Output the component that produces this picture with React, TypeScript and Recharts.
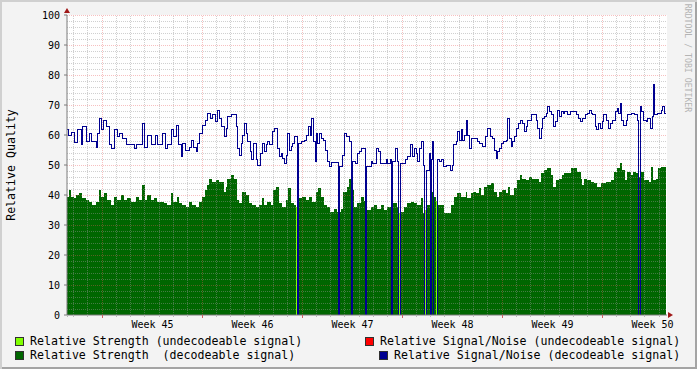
import { Area, ComposedChart, Line, ReferenceLine, XAxis, YAxis } from 'recharts'

const FONT = '"DejaVu Sans Mono", monospace'

const COL = {
  strongDec: '#006600',
  strongUndec: '#80ff00',
  snrUndec: '#ff0000',
  snrDec: '#000090',
  gridMinor: 'rgba(150,150,150,0.45)',
  gridMajor: 'rgba(235,90,90,0.38)',
  axis: '#7a7a7a',
}

// [rrd sample (one per pixel column, ~1.68 h), value]
const strengthDecodeable: [number, number][] = [
  [0, 39.4], [2, 41.7], [4, 39.4], [7, 38.9], [9, 40], [12, 40.6], [15, 39], [19, 38.3], [22, 37.8], [25, 36.7],
  [29, 37.8], [32, 41.7], [34, 39.4], [37, 40.6], [40, 38.3], [44, 36.7], [47, 39.4], [50, 38.3], [54, 40], [57, 38.3],
  [60, 38.9], [64, 37.8], [69, 39.4], [72, 38.3], [75, 43.3], [78, 38.3], [80, 40], [84, 38.3], [87, 38.9], [90, 37.8],
  [97, 37.2], [100, 36.7], [104, 40.6], [106, 37.8], [110, 39.4], [112, 37.2], [115, 36.7], [119, 36.1], [122, 37.8], [125, 36.7],
  [129, 36.1], [132, 37.8], [135, 39.4], [138, 41.7], [140, 43.3], [142, 45.5], [145, 44.4], [149, 45], [152, 44.4], [157, 41.1],
  [159, 42.8], [160, 45.5], [164, 46.7], [167, 45.5], [170, 38.3], [172, 37.2], [175, 41.1], [179, 40], [182, 37.2], [185, 36.7],
  [189, 36.1], [192, 36.7], [195, 38.9], [197, 36.7], [200, 37.8], [204, 36.7], [206, 41.7], [209, 42.8], [212, 37.2], [215, 36.1],
  [219, 38.3], [221, 42.2], [224, 37.2], [227, 36.7], [229, 0], [230, 34], [232, 38.9], [235, 39.4], [239, 38.3], [242, 39.4],
  [245, 37.8], [249, 41.1], [251, 42.2], [254, 39.4], [257, 36.7], [260, 36.1], [263, 34.4], [267, 35.5], [270, 34.4], [274, 35.5],
  [276, 41.1], [280, 42.8], [282, 45.5], [284, 41.7], [287, 36.1], [290, 37.2], [294, 39.4], [297, 38], [299, 35], [304, 36.1],
  [307, 36.7], [310, 35.5], [314, 36.7], [317, 35], [320, 36.1], [324, 36.7], [326, 37.2], [330, 36.1], [332, 0], [333, 34.4],
  [337, 36.1], [340, 37.2], [344, 37.8], [347, 37.2], [350, 36.7], [354, 38.9], [356, 33.9], [358, 0], [359, 36.7], [364, 41.1],
  [367, 39.4], [369, 0], [370, 36.7], [377, 33.9], [384, 36.7], [387, 39.4], [390, 40.6], [394, 39.4], [397, 39.4], [399, 41.1],
  [400, 38.9], [404, 40.6], [406, 41.1], [409, 40.6], [412, 42.2], [414, 40], [417, 42.8], [420, 43.3], [424, 43.9], [427, 41.1],
  [430, 39.4], [432, 41.1], [435, 41.7], [439, 40.6], [441, 42.8], [443, 40], [447, 42.2], [450, 45], [453, 46.7], [455, 45.5],
  [459, 45], [462, 46.1], [465, 45.5], [472, 44.4], [474, 47.2], [477, 48.5], [480, 48.9], [484, 46.7], [486, 42.8], [489, 45],
  [492, 45.5], [495, 46.7], [497, 47.2], [504, 48.9], [510, 47.8], [514, 45.5], [515, 43.3], [517, 45.5], [520, 45], [524, 44.4],
  [527, 43.9], [530, 42.8], [534, 43.9], [539, 44.4], [544, 45], [547, 47.8], [550, 48.9], [553, 50.8], [555, 48.3], [558, 45],
  [560, 47.8], [564, 46.7], [566, 47.8], [569, 47.2], [571, 46.1], [573, 47.8], [577, 45], [582, 44.4], [584, 49.4], [586, 45],
  [589, 45.5], [591, 48.9], [594, 49.4], [599, 49.4],
]

const strengthUndecodeable: [number, number][] = [
  [0, 0], [229, 36], [230, 0], [332, 34], [333, 0], [358, 35], [359, 0], [369, 38], [370, 0], [599, 0],
]

const snrDecodeable: [number, number][] = [
  [0, 62], [1, 60], [4, 61], [7, 57.5], [10, 62], [14, 57], [15, 63], [19, 58], [22, 60.5], [24, 58],
  [29, 56], [30, 60.5], [32, 65.5], [34, 62], [36, 65], [39, 63], [42, 57], [44, 55.5], [47, 61.7], [50, 59.5],
  [52, 60.5], [55, 59], [59, 56.7], [62, 57], [67, 55.5], [69, 57], [75, 64], [77, 56], [80, 60], [84, 57],
  [88, 60], [90, 57], [95, 60.5], [98, 55.5], [100, 56.7], [104, 61.7], [106, 59.5], [109, 63.3], [111, 56.7], [114, 52.8],
  [115, 57.2], [118, 55], [122, 56], [124, 58.3], [126, 56], [129, 54.4], [130, 57.2], [132, 60.5], [135, 63.3], [138, 65],
  [140, 67.2], [143, 65.5], [145, 66.7], [148, 64.4], [150, 68.3], [152, 65.5], [154, 62.8], [157, 59.5], [159, 62.2], [160, 66.1],
  [164, 66.7], [169, 62.8], [170, 55.5], [172, 53.3], [174, 57.2], [175, 60], [177, 63.9], [179, 60.5], [180, 57.8], [183, 54.4],
  [184, 51.7], [186, 57.2], [189, 51.7], [190, 50], [193, 53.9], [195, 57.2], [197, 54.4], [199, 56.7], [200, 57.8], [202, 56.7],
  [205, 61.1], [207, 62.2], [210, 55.5], [212, 52.8], [214, 53.9], [215, 52.2], [217, 50.5], [219, 53.3], [220, 60.5], [222, 55],
  [224, 56.1], [225, 57.2], [227, 59.5], [230, 0], [231, 57.2], [234, 57.8], [237, 58.3], [239, 60], [241, 62.8], [243, 60],
  [244, 65.5], [246, 57.8], [248, 51.1], [249, 60.5], [250, 57.2], [252, 60.5], [254, 58.9], [256, 58.3], [258, 55], [260, 51.1],
  [262, 49.4], [264, 50.8], [271, 0], [272, 49.4], [275, 53.3], [277, 60.5], [279, 59.5], [282, 57.8], [284, 0], [285, 51.1],
  [288, 50.5], [290, 53.9], [292, 54.4], [294, 55.5], [298, 0], [299, 49.4], [304, 51.1], [305, 50.5], [309, 55.5], [311, 54.4],
  [313, 50.5], [319, 51.7], [320, 50.5], [323, 51.7], [324, 0], [325, 51.1], [328, 55.5], [330, 51.1], [331, 0], [333, 50.5],
  [338, 51.7], [340, 52.8], [343, 56.7], [345, 52.8], [347, 55.5], [349, 53.9], [350, 51.1], [352, 55.5], [354, 57.8], [356, 50],
  [357, 0], [359, 48.3], [362, 53.9], [363, 0], [364, 51.7], [365, 57.8], [366, 0], [370, 51.7], [372, 51.1], [374, 51.7],
  [376, 49.4], [379, 50], [383, 48.3], [385, 50], [386, 56.7], [389, 57.8], [390, 61.1], [392, 58.3], [394, 61.7], [395, 58.3],
  [397, 60], [399, 65], [400, 60], [402, 55.5], [404, 58.9], [410, 57.8], [412, 57.2], [415, 56.1], [418, 59.4], [420, 62.2],
  [423, 59.4], [425, 58.9], [427, 55], [429, 52.2], [430, 54.4], [432, 55.5], [434, 57.2], [436, 57.8], [439, 58.3], [440, 65.5],
  [442, 58.9], [444, 56.1], [445, 57.8], [447, 59.4], [449, 62.2], [451, 63.9], [453, 65], [455, 63.9], [457, 61.1], [459, 62.8],
  [460, 65], [464, 66.7], [469, 65], [470, 62.2], [472, 58.9], [474, 62.2], [475, 65.5], [477, 66.1], [479, 67.2], [480, 69.4],
  [482, 67.8], [484, 66.7], [486, 62.8], [488, 64.4], [490, 68.3], [492, 66.1], [494, 67.8], [496, 67.2], [497, 67.8], [500, 66.7],
  [503, 67.8], [509, 66.7], [511, 65.5], [513, 64.4], [515, 65.5], [518, 66.7], [520, 67.2], [522, 68.3], [524, 67.2], [525, 66.7],
  [528, 62.8], [529, 61.7], [531, 63.9], [533, 62.2], [535, 64.4], [536, 66.7], [539, 65], [541, 62.2], [543, 63.9], [545, 65],
  [548, 67.8], [550, 68.9], [551, 67.2], [553, 70.5], [554, 65], [556, 63.3], [559, 65], [560, 66.7], [564, 67.2], [567, 66.7],
  [570, 65], [571, 0], [573, 69.4], [574, 67.8], [576, 65], [579, 64.4], [580, 65.5], [583, 62.2], [585, 66.1], [586, 76.7],
  [587, 66.7], [590, 67.2], [594, 68.3], [595, 69.4], [597, 67.2], [599, 67.2],
]

const weekLabels = ['Week 45', 'Week 46', 'Week 47', 'Week 48', 'Week 49', 'Week 50']
const weekLabelAt = [85.5, 185.5, 285.5, 385.5, 485.5, 585.5]
const weekStartAt = [35, 135, 235, 335, 435, 535]
const yTicks = [0, 10, 20, 30, 40, 50, 60, 70, 80, 90, 100]

const toRows = (pts: [number, number][]) => pts.map(([t, v]) => ({ t, v }))

const dayLines: number[] = []
for (let k = -2; k < 40; k++) {
  const t = 35 + (k * 100) / 7
  if (t > 0 && t < 600 && k % 7 !== 0) dayLines.push(t)
}
const yMinor: number[] = []
for (let v = 2; v < 100; v += 2) if (v % 10 !== 0) yMinor.push(v)

function XTick(props: any) {
  const { x, y, payload } = props
  const v = payload.value
  const li = weekLabelAt.indexOf(v)
  if (li >= 0) {
    return (
      <text x={x} y={y + 13} textAnchor="middle" fontSize={10} fontFamily={FONT} fill="#000">
        {weekLabels[li]}
      </text>
    )
  }
  const major = weekStartAt.includes(v)
  return (
    <line
      x1={x} x2={x} y1={y} y2={y + (major ? 3 : 2)}
      stroke={major ? '#d06060' : '#b8b8b8'}
      shapeRendering="crispEdges"
    />
  )
}

function LegendItem({ left, top, color, text }: { left: number; top: number; color: string; text: string }) {
  return (
    <div style={{ position: 'absolute', left, top, display: 'flex', alignItems: 'center', whiteSpace: 'pre' }}>
      <div style={{ width: 9, height: 9, boxSizing: 'border-box', background: color, border: '1px solid #303030' }} />
      <span style={{ marginLeft: 6, fontFamily: FONT, fontSize: 11.6, lineHeight: '14px', color: '#000' }}>{text}</span>
    </div>
  )
}

export default function App() {
  return (
    <div
      style={{
        position: 'absolute', left: 0, top: 0, width: 697, height: 369, background: '#f3f3f3',
        boxShadow: 'inset 2px 2px 0 #d0d0d0, inset -2px -2px 0 #a4a4a4', overflow: 'hidden',
      }}
    >
      <div style={{ position: 'absolute', left: 67, top: 15, width: 600, height: 300, background: '#fff' }} />
      <div style={{ position: 'absolute', left: 0, top: 0 }}>
        <ComposedChart width={697} height={369} margin={{ top: 15, right: 30, bottom: 34, left: 0 }}>
          <XAxis
            type="number" dataKey="t" domain={[0, 600]} allowDataOverflow
            ticks={[0, ...dayLines, ...weekStartAt, ...weekLabelAt].sort((a, b) => a - b)}
            interval={0} tickSize={0} tickMargin={0} tickLine={false} height={20}
            tick={<XTick />} axisLine={{ stroke: COL.axis }}
          />
          <YAxis
            type="number" domain={[0, 100]} ticks={yTicks} interval={0} width={67} allowDataOverflow
            tickSize={3} tickMargin={4}
            tick={{ fontSize: 10, fontFamily: FONT, fill: '#000' }}
            axisLine={{ stroke: COL.axis }} tickLine={{ stroke: COL.axis }}
          />
          <Area
            data={toRows(strengthDecodeable)} dataKey="v" type="stepAfter" fill={COL.strongDec}
            fillOpacity={1} stroke="none" dot={false} activeDot={false} isAnimationActive={false}
            shapeRendering="crispEdges"
          />
          <Area
            data={toRows(strengthUndecodeable)} dataKey="v" type="stepAfter" fill={COL.strongUndec}
            fillOpacity={1} stroke="none" dot={false} activeDot={false} isAnimationActive={false}
            shapeRendering="crispEdges"
          />
          {yMinor.map((v) => (
            <ReferenceLine key={'hm' + v} y={v} stroke={COL.gridMinor} strokeDasharray="1 1" shapeRendering="crispEdges" />
          ))}
          {dayLines.map((t) => (
            <ReferenceLine key={'vm' + t} x={t} stroke={COL.gridMinor} strokeDasharray="1 1" shapeRendering="crispEdges" />
          ))}
          {yTicks.slice(1).map((v) => (
            <ReferenceLine key={'hM' + v} y={v} stroke={COL.gridMajor} strokeDasharray="1 1" shapeRendering="crispEdges" />
          ))}
          {weekStartAt.map((t) => (
            <ReferenceLine key={'vM' + t} x={t} stroke={COL.gridMajor} strokeDasharray="1 1" shapeRendering="crispEdges" />
          ))}
          <Line
            data={toRows(snrDecodeable)} dataKey="v" type="stepAfter" stroke={COL.snrDec} strokeWidth={1}
            dot={false} activeDot={false} isAnimationActive={false} shapeRendering="crispEdges"
          />
        </ComposedChart>
      </div>
      <svg width={697} height={369} style={{ position: 'absolute', left: 0, top: 0, pointerEvents: 'none' }}>
        <polygon points="64,13 70,13 67,8" fill="#a01818" />
        <polygon points="668,312 668,318 673,315" fill="#a01818" />
      </svg>
      <div
        style={{
          position: 'absolute', left: 11, top: 165, transform: 'translate(-50%, -50%) rotate(-90deg)',
          whiteSpace: 'nowrap', fontFamily: FONT, fontSize: 11.6, color: '#000',
        }}
      >
        Relative Quality
      </div>
      <div
        style={{
          position: 'absolute', left: 688, top: 58, transform: 'translate(-50%, -50%) rotate(90deg)',
          whiteSpace: 'nowrap', fontFamily: FONT, fontSize: 8.2, color: '#b4b4b4',
        }}
      >
        RRDTOOL / TOBI OETIKER
      </div>
      <LegendItem left={15} top={334} color={COL.strongUndec} text="Relative Strength (undecodeable signal)" />
      <LegendItem left={365} top={334} color={COL.snrUndec} text="Relative Signal/Noise (undecodeable signal)" />
      <LegendItem left={15} top={348} color={COL.strongDec} text="Relative Strength  (decodeable signal)" />
      <LegendItem left={379} top={348} color={COL.snrDec} text="Relative Signal/Noise (decodeable signal)" />
    </div>
  )
}
